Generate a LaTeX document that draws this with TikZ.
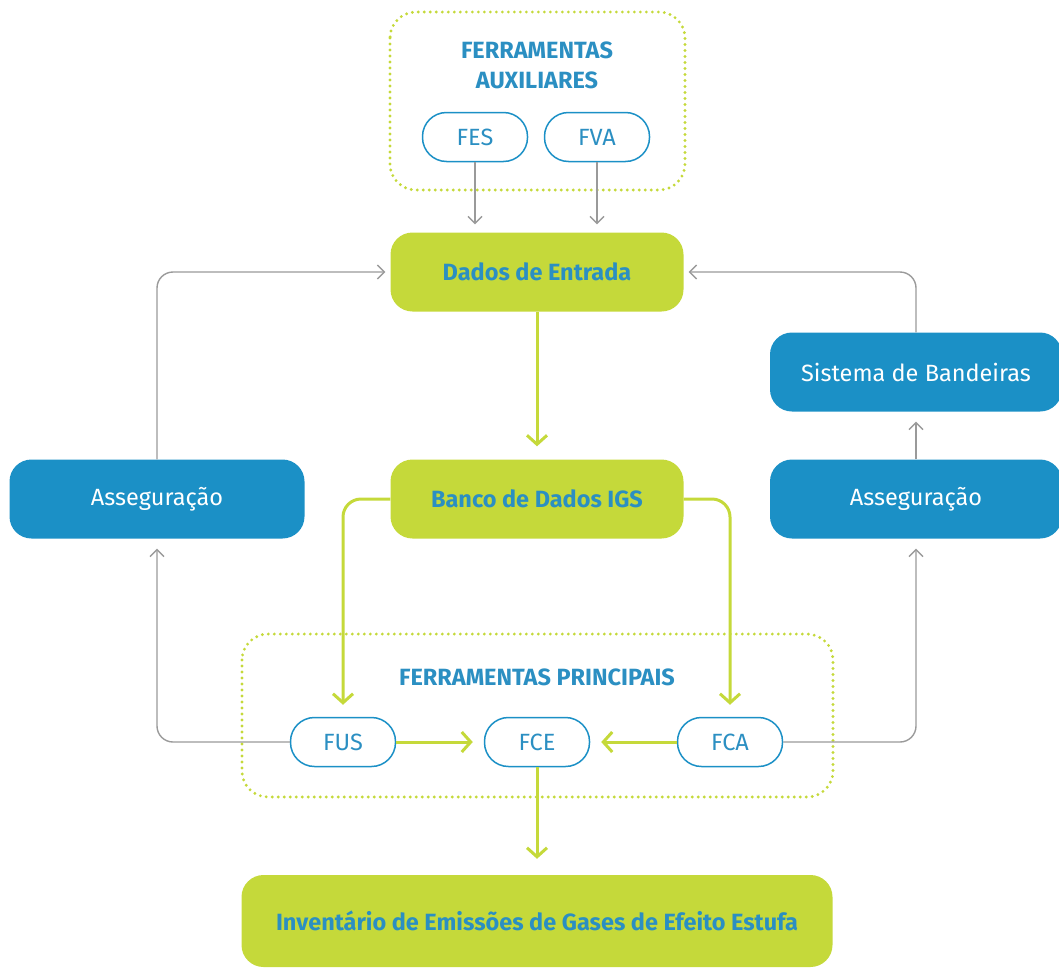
\documentclass[tikz,border=0pt]{standalone}
\usepackage{fontspec}
\setmainfont{Fira Sans}
\usetikzlibrary{arrows.meta,positioning}
\definecolor{lime}{HTML}{C5D93A}
\definecolor{bblue}{HTML}{1B90C6}
\definecolor{tblue}{HTML}{2B8FC2}
\definecolor{lgray}{HTML}{9A9A9A}
\tikzset{
  greenbox/.style={fill=lime, rounded corners=22pt, minimum width=293pt, minimum height=79pt, text=tblue, font=\fontsize{23.5}{26}\selectfont\bfseries, inner sep=0pt},
  bluebox/.style={fill=bblue, rounded corners=22pt, minimum width=294pt, minimum height=79pt, text=white, font=\fontsize{23.5}{26}\selectfont, inner sep=0pt},
  pill/.style={draw=bblue, line width=1.5pt, fill=white, rounded corners=24pt, minimum width=105pt, minimum height=49pt, text=tblue, font=\fontsize{23.5}{26}\selectfont, inner sep=0pt},
  dotbox/.style={draw=lime, line width=3.2pt, dash pattern=on 0pt off 6pt, line cap=round, rounded corners=26pt},
  title/.style={text=tblue, font=\fontsize{23.5}{30}\selectfont\bfseries, align=center},
  garrow/.style={draw=lgray, line width=1.4pt, rounded corners=16pt, -{Straight Barb[length=7pt,width=14pt,line width=1.4pt]}},
  larrow/.style={draw=lime, line width=3pt, rounded corners=18pt, -{Straight Barb[length=9pt,width=20pt,line width=3pt]}},
}
\begin{document}
\begin{tikzpicture}[x=1pt,y=-1pt]
\useasboundingbox (0,0) rectangle (1059,969);
% dotted containers
\draw[dotbox] (390,12) rectangle (685,190);
\draw[dotbox] (242,634) rectangle (833,797);
\node[title] (tAux) at (537,65) {FERRAMENTAS\\AUXILIARES};
\node[title] (tPrin) at (537,677) {FERRAMENTAS PRINCIPAIS};
% nodes
\node[pill] (fes) at (475,137) {FES};
\node[pill] (fva) at (597,137) {FVA};
\node[greenbox] (dados) at (537,272) {Dados de Entrada};
\node[greenbox] (banco) at (537,499) {Banco de Dados IGS};
\node[bluebox, minimum width=295pt] (asl) at (157,499) {Asseguração};
\node[bluebox, minimum width=292pt] (asr) at (916,499) {Asseguração};
\node[bluebox, minimum width=292pt] (sis) at (916,372) {Sistema de Bandeiras};
\node[pill] (fus) at (343,742) {FUS};
\node[pill] (fce) at (537,742) {FCE};
\node[pill] (fca) at (730,742) {FCA};
\node[greenbox, minimum width=591pt, minimum height=92pt] (inv) at (537,921) {Inventário de Emissões de Gases de Efeito Estufa};
% gray connectors
\draw[garrow] (fes.south) -- ([yshift=8pt]dados.north -| fes.south);
\draw[garrow] (fva.south) -- ([yshift=8pt]dados.north -| fva.south);
\draw[garrow] (asl.north) |- ([xshift=-5pt]dados.west);
\draw[garrow] (sis.north) |- ([xshift=5pt]dados.east);
\draw[garrow] (asr.north) -- ([yshift=-10pt]sis.south);
\draw[garrow] (fus.west) -| ([yshift=-10pt]asl.south);
\draw[garrow] (fca.east) -| ([yshift=-10pt]asr.south);
% green connectors
\draw[larrow] (dados.south) -- ([yshift=13pt]banco.north);
\draw[larrow] (banco.west) -| ([yshift=12pt]fus.north);
\draw[larrow] (banco.east) -| ([yshift=12pt]fca.north);
\draw[larrow] (fus.east) -- ([xshift=-11pt]fce.west);
\draw[larrow] (fca.west) -- ([xshift=11pt]fce.east);
\draw[larrow] (fce.south) -- ([yshift=16pt]inv.north);
\end{tikzpicture}
\end{document}
